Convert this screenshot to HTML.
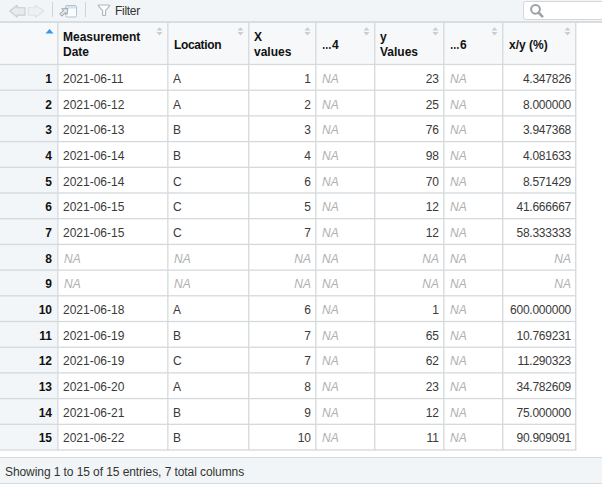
<!DOCTYPE html><html><head><meta charset="utf-8"><style>
*{margin:0;padding:0;box-sizing:border-box}
html,body{width:602px;height:488px;overflow:hidden;background:#fff;font-family:"Liberation Sans",sans-serif;font-size:12px;color:#3a3a3a}
.a{position:absolute}
.tb{left:0;top:0;width:602px;height:21px;background:#f2f5f7}
.hl{position:absolute;height:1px;background:#d6dadd}
.vl{position:absolute;width:1px;background:#d9dcdf}
.t{position:absolute;white-space:nowrap;line-height:14px}
.h{font-weight:bold;color:#111}
.rn{font-weight:bold;color:#111}
.na{font-style:italic;color:#b0b0b0}
.dec{letter-spacing:-0.25px}
.el{display:inline-block;transform:scaleX(.8);transform-origin:0 0;width:10px}
.sort{position:absolute;width:7px;height:10px}
</style></head><body>
<div class="a tb"></div>
<div class="a" style="left:523px;top:1px;width:90px;height:19px;background:#fff;border:1px solid #d3d7db;border-radius:3px"></div>
<svg class="a" style="left:528px;top:3px" width="16" height="16" viewBox="0 0 16 16"><circle cx="7.5" cy="6.3" r="4.4" fill="none" stroke="#9da1a5" stroke-width="2"/><line x1="10.6" y1="9.6" x2="14.2" y2="13.4" stroke="#9da1a5" stroke-width="2.6" stroke-linecap="round"/></svg>
<svg class="a" style="left:9px;top:4px" width="37" height="15" viewBox="0 0 37 15"><path d="M0.8 7 L8.2 1.3 L8.2 3.8 L16 3.8 L16 11.1 L8.2 11.1 L8.2 13.2 Z" fill="#e9eaeb" stroke="#c9cccf" stroke-width="1.1" stroke-linejoin="round"/><path d="M34.8 7 L26.5 1.3 L26.5 3.8 L19.3 3.8 L19.3 11.1 L26.5 11.1 L26.5 13.2 Z" fill="#eef0f1" stroke="#dfe1e3" stroke-width="1.1" stroke-linejoin="round"/></svg>
<div class="a" style="left:52px;top:2px;width:1px;height:15px;background:#d0d3d6"></div>
<div class="a" style="left:85px;top:2px;width:1px;height:15px;background:#d0d3d6"></div>
<svg class="a" style="left:56px;top:2px" width="26" height="18" viewBox="0 0 26 18"><rect x="9.5" y="3.5" width="11" height="11.5" rx="1.5" fill="#fbfcfd" stroke="#bac3ca" stroke-width="1"/><rect x="10" y="4" width="10" height="2.6" fill="#cde5fa"/><g transform="translate(4.8,13) rotate(-43)"><path d="M0 -1.4 L5 -1.4 L5 -3.9 L9.6 0 L5 3.9 L5 1.4 L0 1.4 Z" fill="#e6e9eb" stroke="#a3abb2" stroke-width="1" stroke-linejoin="round"/></g></svg>
<svg class="a" style="left:97px;top:4px" width="14" height="13" viewBox="0 0 14 13"><path d="M1.3 1.9 Q1 1 2 1 L12 1 Q13 1 12.6 1.9 L8.6 6.6 L8.6 10.9 Q8.6 11.5 8 11.5 L6.2 11.5 Q5.6 11.5 5.6 10.9 L5.6 6.6 Z" fill="#fafbfc" stroke="#b2b8bd" stroke-width="1.15" stroke-linejoin="round"/></svg>
<div class="t" style="left:115px;top:4px;color:#333;letter-spacing:-0.3px">Filter</div>
<div class="a" style="left:0;top:21px;width:575px;height:43px;background:#f6f8f9"></div>
<div class="a" style="left:0;top:64px;width:57px;height:385px;background:#f3f6f8"></div>
<div class="hl" style="left:0;top:21px;width:602px;height:2px;background:#d9dde0"></div>
<svg class="a" style="left:0;top:0" width="602" height="488" viewBox="0 0 602 488"><rect x="0" y="63.85" width="576.3" height="1.3" fill="#d5d9dc"/><rect x="0" y="89.55" width="576.3" height="1.3" fill="#d5d9dc"/><rect x="0" y="115.25" width="576.3" height="1.3" fill="#d5d9dc"/><rect x="0" y="140.95" width="576.3" height="1.3" fill="#d5d9dc"/><rect x="0" y="166.65" width="576.3" height="1.3" fill="#d5d9dc"/><rect x="0" y="192.35" width="576.3" height="1.3" fill="#d5d9dc"/><rect x="0" y="218.05" width="576.3" height="1.3" fill="#d5d9dc"/><rect x="0" y="243.75" width="576.3" height="1.3" fill="#d5d9dc"/><rect x="0" y="269.45" width="576.3" height="1.3" fill="#d5d9dc"/><rect x="0" y="295.15" width="576.3" height="1.3" fill="#d5d9dc"/><rect x="0" y="320.85" width="576.3" height="1.3" fill="#d5d9dc"/><rect x="0" y="346.55" width="576.3" height="1.3" fill="#d5d9dc"/><rect x="0" y="372.25" width="576.3" height="1.3" fill="#d5d9dc"/><rect x="0" y="397.95" width="576.3" height="1.3" fill="#d5d9dc"/><rect x="0" y="423.65" width="576.3" height="1.3" fill="#d5d9dc"/><rect x="0" y="449.35" width="576.3" height="1.3" fill="#d5d9dc"/><rect x="57.20" y="22.5" width="1.3" height="427.80" fill="#d5d9dc"/><rect x="167.20" y="22.5" width="1.3" height="427.80" fill="#d5d9dc"/><rect x="248.10" y="22.5" width="1.3" height="427.80" fill="#d5d9dc"/><rect x="315.20" y="22.5" width="1.3" height="427.80" fill="#d5d9dc"/><rect x="374.10" y="22.5" width="1.3" height="427.80" fill="#d5d9dc"/><rect x="443.20" y="22.5" width="1.3" height="427.80" fill="#d5d9dc"/><rect x="502.10" y="22.5" width="1.3" height="427.80" fill="#d5d9dc"/><rect x="575.10" y="22.5" width="1.3" height="427.80" fill="#d5d9dc"/></svg>
<div class="t h" style="left:63px;top:30px;line-height:15px">Measurement<br>Date</div>
<svg class="a" style="left:156px;top:26px" width="7" height="10" viewBox="0 0 7 10"><path d="M0.5 4.4 L3.5 1.2 L6.5 4.4 Z M0.5 6.1 L3.5 9.4 L6.5 6.1 Z" fill="#c9cdd1"/></svg>
<div class="t h" style="left:174px;top:38px"><span style="letter-spacing:-0.35px">Location</span></div>
<svg class="a" style="left:237px;top:26px" width="7" height="10" viewBox="0 0 7 10"><path d="M0.5 4.4 L3.5 1.2 L6.5 4.4 Z M0.5 6.1 L3.5 9.4 L6.5 6.1 Z" fill="#c9cdd1"/></svg>
<div class="t h" style="left:254px;top:30px;line-height:15px">X<br>values</div>
<svg class="a" style="left:304px;top:26px" width="7" height="10" viewBox="0 0 7 10"><path d="M0.5 4.4 L3.5 1.2 L6.5 4.4 Z M0.5 6.1 L3.5 9.4 L6.5 6.1 Z" fill="#c9cdd1"/></svg>
<div class="t h" style="left:322px;top:38px"><span class="el">…</span>4</div>
<svg class="a" style="left:363px;top:26px" width="7" height="10" viewBox="0 0 7 10"><path d="M0.5 4.4 L3.5 1.2 L6.5 4.4 Z M0.5 6.1 L3.5 9.4 L6.5 6.1 Z" fill="#c9cdd1"/></svg>
<div class="t h" style="left:380px;top:30px;line-height:15px">y<br>Values</div>
<svg class="a" style="left:432px;top:26px" width="7" height="10" viewBox="0 0 7 10"><path d="M0.5 4.4 L3.5 1.2 L6.5 4.4 Z M0.5 6.1 L3.5 9.4 L6.5 6.1 Z" fill="#c9cdd1"/></svg>
<div class="t h" style="left:450px;top:38px"><span class="el">…</span>6</div>
<svg class="a" style="left:491px;top:26px" width="7" height="10" viewBox="0 0 7 10"><path d="M0.5 4.4 L3.5 1.2 L6.5 4.4 Z M0.5 6.1 L3.5 9.4 L6.5 6.1 Z" fill="#c9cdd1"/></svg>
<div class="t h" style="left:509px;top:38px">x/y (%)</div>
<svg class="a" style="left:564px;top:26px" width="7" height="10" viewBox="0 0 7 10"><path d="M0.5 4.4 L3.5 1.2 L6.5 4.4 Z M0.5 6.1 L3.5 9.4 L6.5 6.1 Z" fill="#c9cdd1"/></svg>
<svg class="a" style="left:45px;top:28px" width="9" height="6" viewBox="0 0 9 6"><path d="M0.5 5.5 L4.5 1 L8.5 5.5 Z" fill="#3397ee"/></svg>
<div class="t rn" style="right:550px;top:72px">1</div>
<div class="t" style="left:63px;top:72px">2021-06-11</div>
<div class="t" style="left:173px;top:72px">A</div>
<div class="t" style="right:291px;top:72px">1</div>
<div class="t na" style="left:322px;top:72px">NA</div>
<div class="t" style="right:163px;top:72px">23</div>
<div class="t na" style="left:450px;top:72px">NA</div>
<div class="t dec" style="right:31px;top:72px">4.347826</div>
<div class="t rn" style="right:550px;top:98px">2</div>
<div class="t" style="left:63px;top:98px">2021-06-12</div>
<div class="t" style="left:173px;top:98px">A</div>
<div class="t" style="right:291px;top:98px">2</div>
<div class="t na" style="left:322px;top:98px">NA</div>
<div class="t" style="right:163px;top:98px">25</div>
<div class="t na" style="left:450px;top:98px">NA</div>
<div class="t dec" style="right:31px;top:98px">8.000000</div>
<div class="t rn" style="right:550px;top:123px">3</div>
<div class="t" style="left:63px;top:123px">2021-06-13</div>
<div class="t" style="left:173px;top:123px">B</div>
<div class="t" style="right:291px;top:123px">3</div>
<div class="t na" style="left:322px;top:123px">NA</div>
<div class="t" style="right:163px;top:123px">76</div>
<div class="t na" style="left:450px;top:123px">NA</div>
<div class="t dec" style="right:31px;top:123px">3.947368</div>
<div class="t rn" style="right:550px;top:149px">4</div>
<div class="t" style="left:63px;top:149px">2021-06-14</div>
<div class="t" style="left:173px;top:149px">B</div>
<div class="t" style="right:291px;top:149px">4</div>
<div class="t na" style="left:322px;top:149px">NA</div>
<div class="t" style="right:163px;top:149px">98</div>
<div class="t na" style="left:450px;top:149px">NA</div>
<div class="t dec" style="right:31px;top:149px">4.081633</div>
<div class="t rn" style="right:550px;top:175px">5</div>
<div class="t" style="left:63px;top:175px">2021-06-14</div>
<div class="t" style="left:173px;top:175px">C</div>
<div class="t" style="right:291px;top:175px">6</div>
<div class="t na" style="left:322px;top:175px">NA</div>
<div class="t" style="right:163px;top:175px">70</div>
<div class="t na" style="left:450px;top:175px">NA</div>
<div class="t dec" style="right:31px;top:175px">8.571429</div>
<div class="t rn" style="right:550px;top:200px">6</div>
<div class="t" style="left:63px;top:200px">2021-06-15</div>
<div class="t" style="left:173px;top:200px">C</div>
<div class="t" style="right:291px;top:200px">5</div>
<div class="t na" style="left:322px;top:200px">NA</div>
<div class="t" style="right:163px;top:200px">12</div>
<div class="t na" style="left:450px;top:200px">NA</div>
<div class="t dec" style="right:31px;top:200px">41.666667</div>
<div class="t rn" style="right:550px;top:226px">7</div>
<div class="t" style="left:63px;top:226px">2021-06-15</div>
<div class="t" style="left:173px;top:226px">C</div>
<div class="t" style="right:291px;top:226px">7</div>
<div class="t na" style="left:322px;top:226px">NA</div>
<div class="t" style="right:163px;top:226px">12</div>
<div class="t na" style="left:450px;top:226px">NA</div>
<div class="t dec" style="right:31px;top:226px">58.333333</div>
<div class="t rn" style="right:550px;top:252px">8</div>
<div class="t na" style="left:64px;top:252px">NA</div>
<div class="t na" style="left:174px;top:252px">NA</div>
<div class="t na" style="right:291px;top:252px">NA</div>
<div class="t na" style="left:322px;top:252px">NA</div>
<div class="t na" style="right:163px;top:252px">NA</div>
<div class="t na" style="left:450px;top:252px">NA</div>
<div class="t na" style="right:31px;top:252px">NA</div>
<div class="t rn" style="right:550px;top:277px">9</div>
<div class="t na" style="left:64px;top:277px">NA</div>
<div class="t na" style="left:174px;top:277px">NA</div>
<div class="t na" style="right:291px;top:277px">NA</div>
<div class="t na" style="left:322px;top:277px">NA</div>
<div class="t na" style="right:163px;top:277px">NA</div>
<div class="t na" style="left:450px;top:277px">NA</div>
<div class="t na" style="right:31px;top:277px">NA</div>
<div class="t rn" style="right:550px;top:303px">10</div>
<div class="t" style="left:63px;top:303px">2021-06-18</div>
<div class="t" style="left:173px;top:303px">A</div>
<div class="t" style="right:291px;top:303px">6</div>
<div class="t na" style="left:322px;top:303px">NA</div>
<div class="t" style="right:163px;top:303px">1</div>
<div class="t na" style="left:450px;top:303px">NA</div>
<div class="t dec" style="right:31px;top:303px">600.000000</div>
<div class="t rn" style="right:550px;top:329px">11</div>
<div class="t" style="left:63px;top:329px">2021-06-19</div>
<div class="t" style="left:173px;top:329px">B</div>
<div class="t" style="right:291px;top:329px">7</div>
<div class="t na" style="left:322px;top:329px">NA</div>
<div class="t" style="right:163px;top:329px">65</div>
<div class="t na" style="left:450px;top:329px">NA</div>
<div class="t dec" style="right:31px;top:329px">10.769231</div>
<div class="t rn" style="right:550px;top:354px">12</div>
<div class="t" style="left:63px;top:354px">2021-06-19</div>
<div class="t" style="left:173px;top:354px">C</div>
<div class="t" style="right:291px;top:354px">7</div>
<div class="t na" style="left:322px;top:354px">NA</div>
<div class="t" style="right:163px;top:354px">62</div>
<div class="t na" style="left:450px;top:354px">NA</div>
<div class="t dec" style="right:31px;top:354px">11.290323</div>
<div class="t rn" style="right:550px;top:380px">13</div>
<div class="t" style="left:63px;top:380px">2021-06-20</div>
<div class="t" style="left:173px;top:380px">A</div>
<div class="t" style="right:291px;top:380px">8</div>
<div class="t na" style="left:322px;top:380px">NA</div>
<div class="t" style="right:163px;top:380px">23</div>
<div class="t na" style="left:450px;top:380px">NA</div>
<div class="t dec" style="right:31px;top:380px">34.782609</div>
<div class="t rn" style="right:550px;top:406px">14</div>
<div class="t" style="left:63px;top:406px">2021-06-21</div>
<div class="t" style="left:173px;top:406px">B</div>
<div class="t" style="right:291px;top:406px">9</div>
<div class="t na" style="left:322px;top:406px">NA</div>
<div class="t" style="right:163px;top:406px">12</div>
<div class="t na" style="left:450px;top:406px">NA</div>
<div class="t dec" style="right:31px;top:406px">75.000000</div>
<div class="t rn" style="right:550px;top:431px">15</div>
<div class="t" style="left:63px;top:431px">2021-06-22</div>
<div class="t" style="left:173px;top:431px">B</div>
<div class="t" style="right:291px;top:431px">10</div>
<div class="t na" style="left:322px;top:431px">NA</div>
<div class="t" style="right:163px;top:431px">11</div>
<div class="t na" style="left:450px;top:431px">NA</div>
<div class="t dec" style="right:31px;top:431px">90.909091</div>
<div class="a" style="left:0;top:457px;width:602px;height:26px;background:#f2f5f7"></div>
<div class="hl" style="left:0;top:457px;width:602px"></div>
<div class="hl" style="left:0;top:483px;width:602px"></div>
<div class="t" style="left:5px;top:465px;color:#333;letter-spacing:-0.08px">Showing 1 to 15 of 15 entries, 7 total columns</div>
</body></html>
